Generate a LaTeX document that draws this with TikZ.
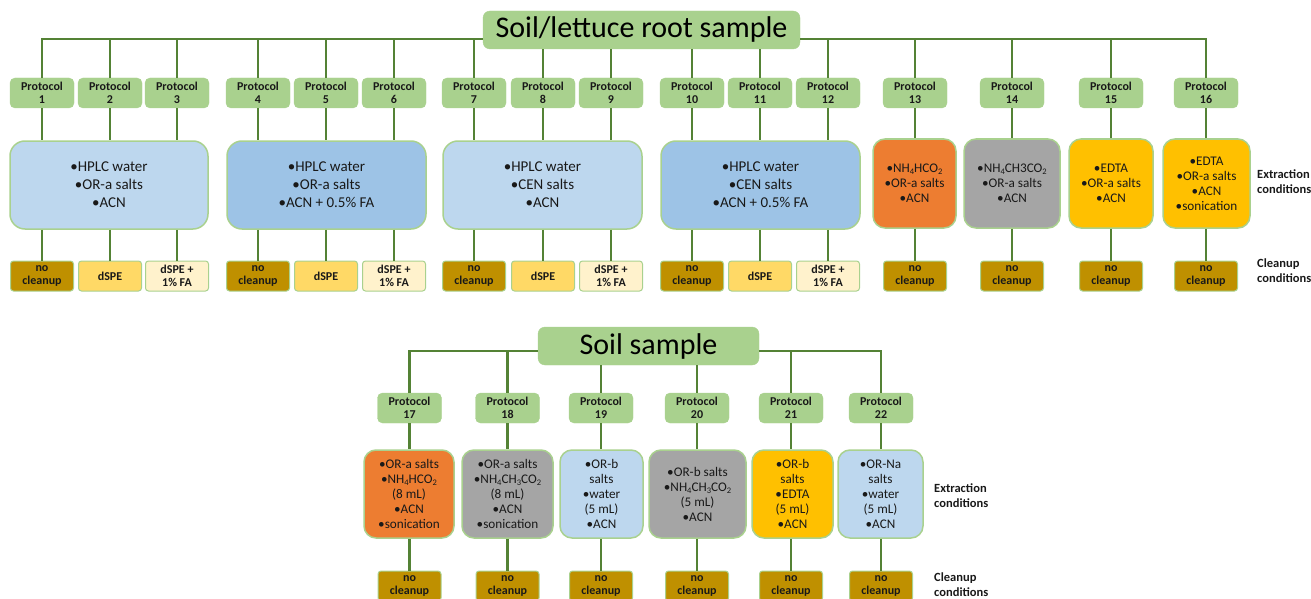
\documentclass[tikz,border=0pt]{standalone}
\usepackage{fontspec}
\setmainfont{Carlito}
\definecolor{lgreen}{HTML}{A9D18E}
\definecolor{dgreen}{HTML}{548235}
\definecolor{lblue}{HTML}{BDD7EE}
\definecolor{mblue}{HTML}{9DC3E6}
\definecolor{orng}{HTML}{ED7D31}
\definecolor{gry}{HTML}{A5A5A5}
\definecolor{gld}{HTML}{FFC000}
\definecolor{noclean}{HTML}{BF9000}
\definecolor{dspe}{HTML}{FFD966}
\definecolor{dspefa}{HTML}{FFF2CC}
\newcommand{\chs}[1]{\raisebox{-0.35ex}{\fontsize{8.5}{8.5}\selectfont #1}}
\newcommand{\bl}{\textbullet}
\tikzset{
  proto/.style={fill=lgreen, draw=lgreen, rounded corners=5pt, minimum width=64pt, minimum height=30pt, inner sep=0pt, align=center, text=black!90, font=\fontsize{12}{13}\selectfont\bfseries},
  titlebox/.style={fill=lgreen, draw=lgreen, rounded corners=7pt, inner sep=0pt, minimum height=38pt, text=black, font=\fontsize{30}{30}\selectfont},
  ext/.style={draw=lgreen, line width=1.5pt, rounded corners=15pt, inner sep=0pt, align=center, text=black!90, font=\fontsize{15}{18}\selectfont},
  extsm/.style={ext, rounded corners=12pt, font=\fontsize{13.2}{15}\selectfont},
  cleanbox/.style={draw=lgreen, line width=1pt, rounded corners=3pt, minimum width=63pt, minimum height=30pt, inner sep=0pt, align=center, text=black!90, font=\fontsize{12}{13}\selectfont\bfseries},
  conn/.style={draw=dgreen, line width=2.5pt},
  side/.style={anchor=west, inner sep=0pt, align=left, text=black!90, font=\fontsize{12.5}{15}\selectfont\bfseries}
}
\newcommand{\NoCl}[3]{\node[cleanbox, fill=noclean] (c#1) at (#2,#3) {no\\cleanup};}
\newcommand{\DsCl}[3]{\node[cleanbox, fill=dspe] (c#1) at (#2,#3) {dSPE};}
\newcommand{\DsFaCl}[3]{\node[cleanbox, fill=dspefa] (c#1) at (#2,#3) {dSPE +\\1\% FA};}
\begin{document}
\begin{tikzpicture}[x=1pt, y=-1pt]
\useasboundingbox (0,0) rectangle (1311,599);

% ---------- top part ----------
\node[titlebox, minimum width=317pt] (t1) at (641.5,30) {Soil/lettuce root sample};
\coordinate (bus1) at (0,39);

\foreach \n/\x in {1/42,2/110,3/177,4/258,5/326,6/394,7/474,8/543,9/611,10/692,11/760,12/828,13/915,14/1012,15/1111,16/1206}
  \node[proto] (p\n) at (\x,93) {Protocol\\\n};

\node[ext, fill=lblue, minimum width=198pt, minimum height=88pt] (e1) at (109,185) {\bl HPLC water\\\bl OR-a salts\\\bl ACN};
\node[ext, fill=mblue, minimum width=199pt, minimum height=88pt] (e2) at (326.5,185) {\bl HPLC water\\\bl OR-a salts\\\bl ACN + 0.5\% FA};
\node[ext, fill=lblue, minimum width=199pt, minimum height=88pt] (e3) at (542.5,185) {\bl HPLC water\\\bl CEN salts\\\bl ACN};
\node[ext, fill=mblue, minimum width=199pt, minimum height=88pt] (e4) at (760.5,185) {\bl HPLC water\\\bl CEN salts\\\bl ACN + 0.5\% FA};
\node[extsm, fill=orng, minimum width=83pt, minimum height=89pt] (e13) at (914.5,183.5) {\bl NH\chs{4}HCO\chs{2}\\\bl OR-a salts\\\bl ACN};
\node[extsm, fill=gry, minimum width=96pt, minimum height=89pt] (e14) at (1012,183.5) {\bl NH\chs{4}CH3CO\chs{2}\\\bl OR-a salts\\\bl ACN};
\node[extsm, fill=gld, minimum width=84pt, minimum height=89pt] (e15) at (1111,183.5) {\bl EDTA\\\bl OR-a salts\\\bl ACN};
\node[extsm, fill=gld, minimum width=87pt, minimum height=89pt] (e16) at (1206.5,183.5) {\bl EDTA\\\bl OR-a salts\\\bl ACN\\\bl sonication};

\NoCl{1}{42}{276} \DsCl{2}{110}{276} \DsFaCl{3}{177}{276}
\NoCl{4}{258}{276} \DsCl{5}{326}{276} \DsFaCl{6}{394}{276}
\NoCl{7}{474}{276} \DsCl{8}{543}{276} \DsFaCl{9}{611}{276}
\NoCl{10}{692}{276} \DsCl{11}{760}{276} \DsFaCl{12}{828}{276}
\NoCl{13}{915}{276} \NoCl{14}{1012}{276} \NoCl{15}{1111}{276} \NoCl{16}{1206}{276}

\node[side] (x1) at (1257,182) {Extraction\\conditions};
\node[side] (y1) at (1257,271) {Cleanup\\conditions};

% connectors top
\draw[conn] (p1.north) |- (t1.west |- bus1);
\draw[conn] (t1.east |- bus1) -| (p16.north);
\foreach \n in {2,3,4,5,6,7,12,13,14,15}
  \draw[conn] (p\n.north) -- (p\n.north |- bus1);
\foreach \n in {8,9,10,11}
  \draw[conn] (p\n.north) -- (p\n.north |- t1.south);
\foreach \n/\e in {1/e1,2/e1,3/e1,4/e2,5/e2,6/e2,7/e3,8/e3,9/e3,10/e4,11/e4,12/e4,13/e13,14/e14,15/e15,16/e16}{
  \draw[conn] (p\n.south) -- (p\n.south |- \e.north);
  \draw[conn] (c\n.north |- \e.south) -- (c\n.north);
}

% ---------- bottom part ----------
\node[titlebox, minimum width=221pt] (t2) at (648.5,346) {Soil sample};
\coordinate (bus2) at (0,351);

\foreach \n/\x in {17/409.5,18/507.5,19/601,20/697,21/791,22/881}
  \node[proto] (p\n) at (\x,408) {Protocol\\\n};

\node[extsm, fill=orng, minimum width=90pt, minimum height=88pt] (e17) at (409,494) {\bl OR-a salts\\\bl NH\chs{4}HCO\chs{2}\\(8 mL)\\\bl ACN\\\bl sonication};
\node[extsm, fill=gry, minimum width=91pt, minimum height=88pt] (e18) at (507.5,494) {\bl OR-a salts\\\bl NH\chs{4}CH\chs{3}CO\chs{2}\\(8 mL)\\\bl ACN\\\bl sonication};
\node[extsm, fill=lblue, minimum width=83pt, minimum height=88pt] (e19) at (601.5,494) {\bl OR-b\\salts\\\bl water\\(5 mL)\\\bl ACN};
\node[extsm, fill=gry, minimum width=97pt, minimum height=88pt] (e20) at (697.5,494) {\bl OR-b salts\\\bl NH\chs{4}CH\chs{3}CO\chs{2}\\(5 mL)\\\bl ACN};
\node[extsm, fill=gld, minimum width=81pt, minimum height=88pt] (e21) at (792.5,494) {\bl OR-b\\salts\\\bl EDTA\\(5 mL)\\\bl ACN};
\node[extsm, fill=lblue, minimum width=85pt, minimum height=88pt] (e22) at (880.5,494) {\bl OR-Na\\salts\\\bl water\\(5 mL)\\\bl ACN};

\NoCl{17}{409.5}{586} \NoCl{18}{507.5}{586} \NoCl{19}{601}{586}
\NoCl{20}{697}{586} \NoCl{21}{791}{586} \NoCl{22}{881}{586}

\node[side] (x2) at (934,495.5) {Extraction\\conditions};
\node[side] (y2) at (934,584.5) {Cleanup\\conditions};

% connectors bottom
\draw[conn] (p17.north) |- (t2.west |- bus2);
\draw[conn] (t2.east |- bus2) -| (p22.north);
\foreach \n in {18,21}
  \draw[conn] (p\n.north) -- (p\n.north |- bus2);
\foreach \n in {19,20}
  \draw[conn] (p\n.north) -- (p\n.north |- t2.south);
\foreach \n in {17,18,19,20,21,22}{
  \draw[conn] (p\n.south) -- (p\n.south |- e\n.north);
  \draw[conn] (c\n.north |- e\n.south) -- (c\n.north);
}
\end{tikzpicture}
\end{document}
